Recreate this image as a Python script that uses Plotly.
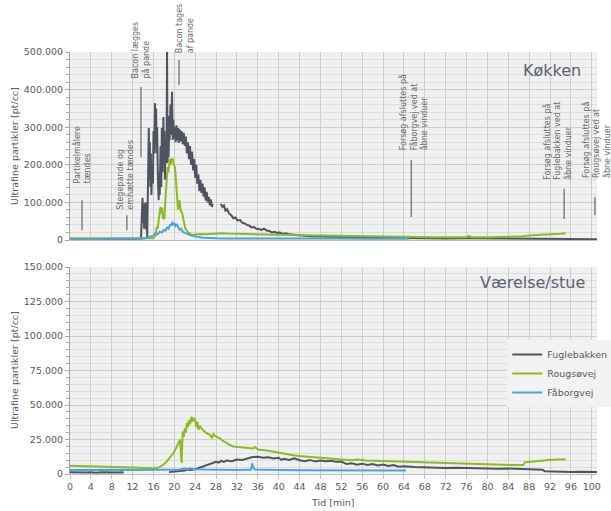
import plotly.graph_objects as go

# ---------------- DATA ----------------
series_names = ["Fuglebakken", "Rougsøvej", "Fåborgvej"]

# Køkken (kitchen) - time [min] and ultrafine particles [pt/cc]
k_fug_t = [0, 1, 2, 3, 4, 5, 6, 7, 8, 9, 10, 11, 12, 13, 13.6,
           13.8, 13.9, 14.0, 14.1, 14.2, 14.3, 14.4, 14.5, 14.6, 14.7, 14.8, 14.95,
           15.1, 15.2, 15.3, 15.4, 15.5, 15.6, 15.75, 15.9, 16.0, 16.15, 16.3, 16.4,
           16.5, 16.6, 16.7, 16.85, 17.0, 17.1, 17.2, 17.35, 17.5, 17.6, 17.75, 17.9,
           18.0, 18.1, 18.2, 18.35, 18.5, 18.6, 18.7, 18.8, 18.9, 19.0, 19.1, 19.25,
           19.4, 19.55, 19.7, 19.8, 19.95, 20.1, 20.25, 20.4, 20.55, 20.7, 20.85, 21.0,
           21.2, 21.4, 21.6, 21.8, 22.0, 22.2, 22.4, 22.6, 22.8, 23.0, 23.2, 23.4,
           23.6, 23.8, 24.0, 24.2, 24.4, 24.6, 24.8, 25.0, 25.2, 25.4, 25.6, 25.8,
           26.0, 26.2, 26.4, 26.6, 26.8, 27.0, 27.2, 27.35, 27.4,
           28.9, 29.2, 29.5, 29.8, 30.1, 30.5, 30.9, 31.3, 31.7, 32.1, 32.6, 33.0,
           33.5, 33.9, 34.4, 34.8, 35.2, 35.7, 36.2, 36.7, 37.2, 37.7, 38.2, 38.7,
           39.2, 39.7, 40.2, 40.8, 41.4, 42.0, 43.0, 44.0, 45.0, 46.0, 48, 50, 52,
           54, 56, 58, 60, 62, 64, 66, 68, 72, 76, 80, 84, 88, 91, 92, 96, 101]
k_fug_v = [2000, 2500, 2200, 2600, 2300, 2500, 2400, 2200, 2600, 2300, 2500, 2400, 2700, 3000, 3500,
           60000, 112000, 45000, 98000, 30000, 90000, 55000, 100000, 27000, 70000, 5000, 150000,
           298000, 160000, 260000, 141000, 230000, 120000, 200000, 150000, 290000, 230000, 364000, 260000,
           350000, 231000, 300000, 160000, 106000, 180000, 120000, 250000, 141000, 298000, 180000, 327000,
           200000, 290000, 160000, 270000, 205000, 500000, 205000, 330000, 220000, 300000, 266000, 360000,
           280000, 394000, 266000, 320000, 270000, 300000, 260000, 305000, 265000, 298000, 258000, 295000,
           262000, 290000, 255000, 285000, 250000, 275000, 230000, 260000, 215000, 250000, 200000, 235000,
           185000, 215000, 165000, 200000, 150000, 175000, 130000, 160000, 125000, 150000, 115000, 140000,
           105000, 128000, 100000, 115000, 92000, 108000, 88000, 96000, None,
           96000, 88000, 92000, 78000, 82000, 70000, 66000, 58000, 60000, 52000, 53000, 46000,
           44000, 40000, 38000, 33000, 35000, 30000, 29000, 27000, 30000, 25000, 24000, 20000,
           22000, 19000, 20000, 16000, 18000, 15000, 14000, 12500, 12000, 10000, 9000, 8000, 7500,
           7000, 6500, 6000, 6000, 5500, 5000, 4800, 4500, 4200, 4500, 4000, 4000, 3800, 3500, 2500, 2000, 2200]

k_rou_t = [0, 2, 4, 6, 8, 10, 12, 14, 15, 16, 16.4, 16.6, 16.8, 17.0, 17.2, 17.35, 17.5, 17.65,
           17.8, 17.95, 18.1, 18.25, 18.4, 18.55, 18.7, 18.85, 19.0, 19.15, 19.3, 19.45, 19.6,
           19.75, 19.9, 20.1, 20.25, 20.4, 20.55, 20.7, 20.85, 21.0, 21.15, 21.3, 21.5, 21.7,
           21.9, 22.1, 22.3, 22.6, 22.9, 23.2, 23.6, 24, 25, 26, 27, 28, 29, 30, 32, 34, 36,
           38, 40, 42, 44, 46, 48, 50, 54, 58, 62, 66, 70, 74, 76, 76.4, 77, 80, 84, 86, 88,
           90, 92, 94, 95]
k_rou_v = [4500, 4300, 4000, 4200, 3800, 3900, 3600, 3500, 3800, 4500, 12000, 35000, 30000, 60000, 75000, 88000, 70000, 86000,
           57000, 62000, 55000, 100000, 140000, 160000, 194000, 180000, 205000, 215000, 200000, 218000, 210000,
           216000, 200000, 194000, 170000, 141000, 110000, 80000, 95000, 106000, 85000, 75000, 72000, 55000,
           45000, 30000, 27000, 20000, 18000, 15000, 14000, 15000, 16000, 15500, 17000, 16500, 18000, 17000, 16000, 16500, 15000,
           14500, 14000, 13500, 13000, 12500, 11500, 10600, 10000, 9000, 8000, 7500, 7500, 7200, 7200, 11000, 7500, 7200, 7500, 9000, 12000,
           12500, 15000, 16500, 17700]

k_fab_t = [0, 2, 4, 6, 8, 10, 12, 13.5, 14.2, 14.8, 15.4, 16.0, 16.4, 16.8, 17.2, 17.6, 18.0,
           18.3, 18.6, 18.9, 19.2, 19.4, 19.6, 19.8, 20.0, 20.2, 20.5, 20.8, 21.0, 21.3, 21.6,
           22.0, 22.4, 22.8, 23.2, 23.6, 24.0, 24.6, 25.5, 26.5, 28, 30, 33, 36, 40, 44, 48,
           52, 56, 60, 64, 65]
k_fab_v = [2000, 2200, 2000, 2300, 2100, 2200, 2400, 2500, 4000, 6000, 9000, 12000, 18000, 15000, 22000, 20000, 27000,
           25000, 33000, 30000, 42000, 38000, 48000, 40000, 45000, 37000, 41000, 32000, 27000, 30000, 22000,
           19000, 16000, 15000, 12000, 11000, 9000, 8000, 6000, 5000, 4500, 4000, 4200, 3800, 3500, 4000, 3500,
           3800, 3500, 3600, 3400, 3500]

# Værelse/stue (room/living room)
s_fug_t = [0, 1, 2, 3, 4, 5, 6, 7, 8, 9, 10, 10.3, 10.4,
           19, 20, 21, 22, 22.5, 23, 24, 24.5, 25, 25.5, 26, 26.5, 27, 27.5, 28, 28.5, 29, 29.5,
           30, 31, 32, 33, 34, 35, 36, 37, 38, 39, 40, 40.5, 41, 42, 43, 44, 45, 46, 47, 48, 49,
           50, 51, 52, 53, 54, 55, 56, 57, 58, 59, 60, 61, 62, 63, 64, 66, 68, 70, 72, 74, 76,
           78, 80, 82, 84, 86, 88, 90, 90.6, 91, 92, 94, 96, 98, 100, 101]
s_fug_v = [1200, 1000, 1300, 1100, 1200, 900, 1200, 1000, 1300, 1100, 1200, 1000, None,
           1500, 1800, 2000, 2500, 3200, 2900, 3500, 4200, 4800, 5200, 5800, 6500, 7500, 8000, 8800, 8200, 9500, 8800,
           9800, 9300, 10500, 10200, 11500, 12300, 12500, 11800, 12200, 11200, 11800, 10200, 11000, 10200, 11400, 10000, 9200, 10200, 9000, 9800, 9200,
           9600, 8800, 9000, 7200, 7800, 6800, 7500, 6600, 7200, 6200, 6800, 5800, 6500, 5200, 5600, 5000, 4600, 4400, 4300, 4500, 4200,
           4000, 4100, 3800, 3900, 3700, 3800, 3600, 3000, 2000, 1800, 1700, 1500, 1600, 1400, 1500]

s_rou_t = [0, 2, 4, 6, 8, 10, 12, 14, 16, 16.6, 17.2, 17.8, 18.5, 19.2, 19.8, 20.3, 20.8, 21.1,
           21.3, 21.4, 21.5, 21.6, 21.8, 22.0, 22.2, 22.4, 22.6, 22.8, 23.0, 23.3, 23.5, 23.7,
           24.0, 24.2, 24.4, 24.6, 24.9, 25.2, 25.6, 26.2, 26.8, 27.2, 27.5, 28.0, 28.7, 29.3,
           30, 30.6, 31.3, 32.5, 33.9, 35.1, 35.5, 36, 37.7, 39, 40.3, 41.5, 42.8, 44, 46, 48,
           50.2, 52, 54, 55, 56.8, 60, 63.2, 66, 69.6, 73, 76, 80, 83, 85, 86.9, 87.2, 88, 90,
           90.8, 91.4, 93, 95]
s_rou_v = [6000, 5800, 5900, 5500, 5400, 5200, 5000, 4700, 4400, 4100, 5100, 6500, 8900, 12000, 15000, 18500, 22000, 25000,
           12000, 8000, 20000, 30700, 27000, 33000, 30000, 37000, 34000, 39000, 36000, 41500, 38000, 40500,
           39000, 34000, 38000, 32000, 35000, 33000, 31500, 29500, 28500, 26000, 29000, 27000, 26000, 24000,
           22500, 21000, 20000, 19500, 19000, 18500, 19500, 17800, 17000, 16000, 15500, 14500, 13600, 13000, 12300, 11500,
           10600, 10500, 10000, 10500, 9700, 9300, 8700, 8500, 8200, 7700, 7200, 7000, 6700, 6500, 6600, 8500, 8700, 9000,
           9700, 10100, 10200, 10600]

s_fab_t = [0, 2, 4, 6, 8, 10, 12, 14, 16, 18, 20, 21, 22, 22.5, 23, 24, 26, 28, 30, 32, 34,
           34.7, 34.9, 35.1, 35.4, 37, 40, 44, 48, 52, 56, 60, 64.4]
s_fab_v = [2900, 3000, 2800, 3000, 2900, 3100, 2900, 3000, 2800, 3000, 3200, 3300, 4000, 3500, 4200, 3500, 3200, 3000, 3100, 2900, 3000,
           3000, 7700, 5000, 3200, 3000, 2900, 2800, 2700, 2600, 2700, 2500, 2600]

x_ticks = list(range(0, 101, 4))

colors = {"Fuglebakken": "#4f5460", "Rougsøvej": "#8dbb21", "Fåborgvej": "#4da3df"}

# ---------------- FIGURE ----------------
FONT = "DejaVu Sans"
TXT = "#595959"

fig = go.Figure()

kitchen = [(k_fug_t, k_fug_v), (k_rou_t, k_rou_v), (k_fab_t, k_fab_v)]
room = [(s_fug_t, s_fug_v), (s_rou_t, s_rou_v), (s_fab_t, s_fab_v)]

for name, (t, v) in zip(series_names, kitchen):
    fig.add_trace(go.Scatter(x=t, y=v, mode="lines", name=name, showlegend=False,
                             line=dict(color=colors[name], width=2),
                             xaxis="x", yaxis="y", connectgaps=False))
for name, (t, v) in zip(series_names, room):
    fig.add_trace(go.Scatter(x=t, y=v, mode="lines", name=name, showlegend=True,
                             line=dict(color=colors[name], width=2),
                             xaxis="x2", yaxis="y2", connectgaps=False))

# geometry (paper) : plot area px x 70..596.7, y 52..474
H_PLOT = 422.0
def py(p):
    return (474 - p) / H_PLOT

top_dom = [py(240), 1.0]
bot_dom = [0.0, py(267)]

grid_major = "#cdcdcd"
grid_minor = "#dedede"
axis_common = dict(range=[0, 101], tickvals=x_ticks, showgrid=True, gridcolor=grid_major,
                   gridwidth=1, zeroline=False, showline=True, linecolor="#bfbfbf",
                   tickfont=dict(family=FONT, size=9.5, color=TXT))

fig.update_layout(
    width=611, height=511,
    margin=dict(l=70, r=14.3, t=52, b=37, autoexpand=False),
    paper_bgcolor="white",
    plot_bgcolor="#f0f0f0",
    separators=",.",
    font=dict(family=FONT, color=TXT),
    xaxis=dict(**axis_common, domain=[0, 1], anchor="y", showticklabels=False, ticks=""),
    xaxis2=dict(**axis_common, domain=[0, 1], anchor="y2", ticks="outside", ticklen=4,
                tickcolor="#bfbfbf"),
    yaxis=dict(domain=top_dom, anchor="x", range=[0, 500000], tickvals=[0, 100000, 200000, 300000, 400000, 500000],
               tickformat=",d", showgrid=True, gridcolor=grid_major, zeroline=False,
               showline=True, linecolor="#a6a6a6", ticks="outside", ticklen=4, tickcolor="#a6a6a6",
               tickfont=dict(family=FONT, size=9.5, color=TXT),
               minor=dict(dtick=20000, showgrid=True, gridcolor=grid_minor, ticks="outside", ticklen=3, tickcolor="#a6a6a6")),
    yaxis2=dict(domain=bot_dom, anchor="x2", range=[0, 150000], tickvals=[0, 25000, 50000, 75000, 100000, 125000, 150000],
                tickformat=",d", showgrid=True, gridcolor=grid_major, zeroline=False,
                showline=True, linecolor="#a6a6a6", ticks="outside", ticklen=4, tickcolor="#a6a6a6",
                tickfont=dict(family=FONT, size=9.5, color=TXT),
                minor=dict(dtick=5000, showgrid=True, gridcolor=grid_minor, ticks="outside", ticklen=3, tickcolor="#a6a6a6")),
    legend=dict(x=(507 - 70) / 526.7, y=py(340), xanchor="left", yanchor="top",
                bgcolor="#f2f2f2", borderwidth=0, font=dict(family=FONT, size=9.5, color=TXT),
                itemwidth=30, tracegroupgap=0),
)

annotations = []
# axis titles
annotations.append(dict(text="Ultrafine partikler [pt/cc]", xref="paper", yref="paper",
                        x=(14 - 70) / 526.7, y=py(146), textangle=-90, showarrow=False,
                        font=dict(family=FONT, size=9.5, color=TXT), xanchor="center", yanchor="middle"))
annotations.append(dict(text="Ultrafine partikler [pt/cc]", xref="paper", yref="paper",
                        x=(14 - 70) / 526.7, y=py(370), textangle=-90, showarrow=False,
                        font=dict(family=FONT, size=9.5, color=TXT), xanchor="center", yanchor="middle"))
annotations.append(dict(text="Tid [min]", xref="paper", yref="paper", x=(333 - 70) / 526.7, y=py(502),
                        showarrow=False, font=dict(family=FONT, size=9.5, color=TXT),
                        xanchor="center", yanchor="middle"))
# panel titles
annotations.append(dict(text="Køkken", xref="paper", yref="paper", x=(583 - 70) / 526.7, y=py(71),
                        showarrow=False, font=dict(family=FONT, size=16, color="#5b6270"),
                        xanchor="right", yanchor="middle"))
annotations.append(dict(text="Værelse/stue", xref="paper", yref="paper", x=(587 - 70) / 526.7, y=py(282),
                        showarrow=False, font=dict(family=FONT, size=16, color="#5b6270"),
                        xanchor="right", yanchor="middle"))

# event annotations (kitchen)
events = [
    ("Partikelmålere<br>tændes", 2.3, 186, 2.3, 26000, 106000),
    ("Stegepande og<br>emhætte tændes", 10.5, 212, 10.9, 26000, 66000),
    ("Bacon lægges<br>på pande", 13.6, 80, 13.6, 221000, 407000),
    ("Bacon tages<br>af pande", 21.9, 55, 20.9, 412000, 479000),
    ("Forsøg afsluttes på<br>Fåborgvej ved at<br>åbne vinduer", 65.8, 152, 65.4, 61000, 213000),
    ("Forsøg afsluttes på<br>Fuglebakken ved at<br>åbne vinduer", 93.5, 182, 94.7, 56000, 136000),
    ("Forsøg afsluttes på<br>Rougsøvej ved at<br>åbne vinduer", 100.8, 180, 100.6, 66000, 114000),
]
shapes = []
for txt, tx, tb, lx, y0, y1 in events:
    annotations.append(dict(text=txt, xref="x", yref="paper", x=tx, y=py(tb), textangle=-90,
                            showarrow=False, align="left", xanchor="center", yanchor="bottom",
                            font=dict(family=FONT, size=8, color="#6b6b6b")))
    shapes.append(dict(type="line", xref="x", yref="y", x0=lx, x1=lx, y0=y0, y1=y1,
                       line=dict(color="#5f6670", width=1.2)))

fig.update_layout(annotations=annotations, shapes=shapes)

fig.write_html("out.html")
